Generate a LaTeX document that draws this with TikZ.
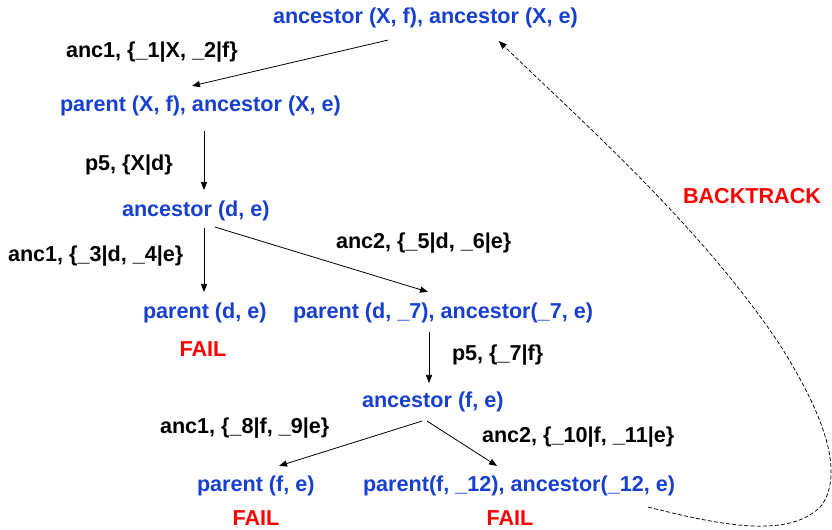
\documentclass[tikz,border=0pt]{standalone}
\usepackage{fontspec}
\setmainfont{Liberation Sans}
\usetikzlibrary{arrows.meta,calc}
\definecolor{goalblue}{RGB}{24,64,208}
\definecolor{failred}{RGB}{255,0,0}
\begin{document}
\begin{tikzpicture}[x=0.75pt,y=-0.75pt,
  every node/.style={inner sep=0pt,outer sep=0pt,font=\fontsize{16.2}{19}\selectfont\bfseries},
  goal/.style={text=goalblue,anchor=west},
  subst/.style={text=black,anchor=west},
  fail/.style={text=failred},
  arr/.style={-{Triangle[length=6pt,width=4.6pt]},line width=0.6pt,black},
  backarr/.style={-{Triangle[length=6pt,width=4.6pt]},line width=0.55pt,black,dash pattern=on 3pt off 1.6pt}]
\useasboundingbox (0,0) rectangle (832,530);

% goals of the resolution tree
\node[goal] (n1) at (273,18) {ancestor (X, f), ancestor (X, e)};
\node[goal] (n2) at (60,106) {parent (X, f), ancestor (X, e)};
\node[goal] (n3) at (122,211) {ancestor (d, e)};
\node[goal] (n4) at (143,313) {parent (d, e)};
\node[goal] (n5) at (293,313) {parent (d, \_7), ancestor(\_7, e)};
\node[goal] (n6) at (362,402) {ancestor (f, e)};
\node[goal] (n7) at (197,486) {parent (f, e)};
\node[goal] (n8) at (363,486) {parent(f, \_12), ancestor(\_12, e)};

% clauses and substitutions
\node[subst] (s1) at (66,52) {anc1, \{\_1|X, \_2|f\}};
\node[subst] (s2) at (85,165) {p5, \{X|d\}};
\node[subst] (s3) at (8,256) {anc1, \{\_3|d, \_4|e\}};
\node[subst] (s4) at (336,243) {anc2, \{\_5|d, \_6|e\}};
\node[subst] (s5) at (452,355) {p5, \{\_7|f\}};
\node[subst] (s6) at (160,428) {anc1, \{\_8|f, \_9|e\}};
\node[subst] (s7) at (482,437) {anc2, \{\_10|f, \_11|e\}};

% failures and backtracking
\node[fail] (f1) at (203,349) {FAIL};
\node[fail] (f2) at (256,518) {FAIL};
\node[fail] (f3) at (510,518) {FAIL};
\node[fail] (bt) at (752,196) {BACKTRACK};

% derivation steps
\draw[arr] ($(n1.south west)+(115,12)$) -- ($(n2.north west)+(132,-10)$);
\draw[arr] ($(n2.south west)+(144,15)$) -- ($(n3.north west)+(82,-11)$);
\draw[arr] ($(n3.south west)+(82,7)$) -- ($(n4.north west)+(61,-11)$);
\draw[arr] ($(n3.south west)+(93,6)$) -- ($(n5.north west)+(135,-11)$);
\draw[arr] ($(n5.south west)+(136,9)$) -- ($(n6.north west)+(67,-9)$);
\draw[arr] ($(n6.south west)+(60,9)$) -- ($(n7.north west)+(82,-10)$);
\draw[arr] ($(n6.south west)+(65,9)$) -- ($(n8.north west)+(134,-10)$);

% backtrack to the root goal
\draw[backarr] ($(n8.south east)+(-27,11)$)
  .. controls (720,525) and (790,540) .. (822,505)
  .. controls (845,470) and (822,412) .. (780,345)
  .. controls (700,225) and (580,120) .. ($(n1.south east)+(-79,13)$);
\end{tikzpicture}
\end{document}
